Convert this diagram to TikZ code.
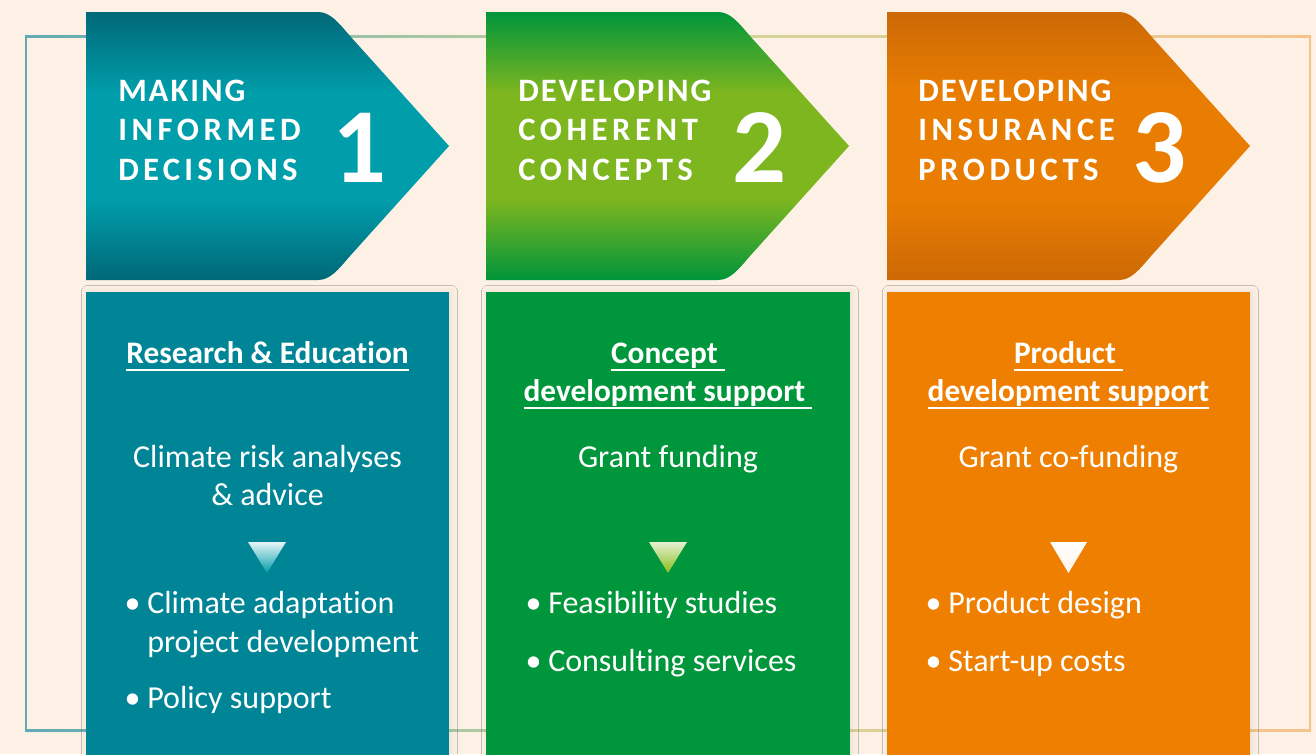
\documentclass[tikz,border=0pt]{standalone}
\usepackage{fontspec}
\setmainfont{Carlito}[Ligatures={NoCommon}]
\newfontfamily\titlefont{Carlito}
\usetikzlibrary{shadows.blur}
\definecolor{Cream}{HTML}{FDF1E5}
\definecolor{TealDark}{HTML}{006878}
\definecolor{TealLight}{HTML}{009DAA}
\definecolor{TealBox}{HTML}{008596}
\definecolor{GreenDark}{HTML}{00953A}
\definecolor{GreenLight}{HTML}{7DB61F}
\definecolor{GreenBox}{HTML}{00963B}
\definecolor{OrangeDark}{HTML}{CC6905}
\definecolor{OrangeLight}{HTML}{E97D02}
\definecolor{OrangeBox}{HTML}{EF7F00}
\definecolor{FrameTeal}{HTML}{62AAB4}
\definecolor{FrameYellow}{HTML}{CFD69A}
\definecolor{FrameOrange}{HTML}{F7C28C}
\pgfdeclareverticalshading{tealband}{100bp}{color(0bp)=(TealDark); color(25bp)=(TealDark); color(40bp)=(TealLight); color(60bp)=(TealLight); color(75bp)=(TealDark); color(100bp)=(TealDark)}
\pgfdeclareverticalshading{greenband}{100bp}{color(0bp)=(GreenDark); color(25bp)=(GreenDark); color(40bp)=(GreenLight); color(60bp)=(GreenLight); color(75bp)=(GreenDark); color(100bp)=(GreenDark)}
\pgfdeclareverticalshading{orangeband}{100bp}{color(0bp)=(OrangeDark); color(25bp)=(OrangeDark); color(40bp)=(OrangeLight); color(60bp)=(OrangeLight); color(75bp)=(OrangeDark); color(100bp)=(OrangeDark)}
\newcommand{\ulin}[1]{\setbox0\hbox{#1}\rlap{\rule[-5.8pt]{\wd0}{1.6pt}}\box0}
\newcommand{\bul}{\llap{\textbullet\hspace{5pt}}}
\def\chevronpath{(86,12) -- (318,12) .. controls (330,12) and (338,22) .. (350,36) -- (449,146) -- (350,256) .. controls (338,270) and (330,280) .. (318,280) -- (86,280) -- cycle}
\tikzset{
  title/.style={anchor=base west, inner sep=0, text=white, font=\titlefont\bfseries\fontsize{24.5}{29}\selectfont\addfontfeature{LetterSpace=#1}},
  title/.default=6,
  num/.style={anchor=base, inner sep=0, text=white, font=\bfseries\fontsize{80}{90}\selectfont},
  head/.style={anchor=base, inner sep=0, text=white, font=\bfseries\fontsize{23.5}{28}\selectfont},
  body/.style={anchor=base, inner sep=0, text=white, font=\fontsize{24}{29}\selectfont},
  item/.style={body, anchor=base west},
  card/.style={blur shadow={shadow xshift=1.5pt, shadow yshift=0pt, shadow blur radius=5pt, shadow opacity=8}}
}

\begin{document}
\begin{tikzpicture}[x=0.75pt, y=-0.75pt]
  \useasboundingbox (0,0) rectangle (1316,754);
  \fill[Cream] (0,0) rectangle (1316,754);
  % frame
  \shade[left color=FrameTeal, right color=FrameOrange, middle color=FrameYellow] (25,35) rectangle (1311,37);
  \shade[left color=FrameTeal, right color=FrameOrange, middle color=FrameYellow] (25,729) rectangle (1311,731);
  \fill[FrameTeal] (25,35) rectangle (27,731); \fill[FrameOrange] (1309,35) rectangle (1311,731);
  % chevrons
  \shade[shading=tealband] \chevronpath;
  \begin{scope}[xshift=300pt]
    \shade[shading=greenband] \chevronpath;
  \end{scope}
  \begin{scope}[xshift=600.75pt]
    \shade[shading=orangeband] \chevronpath;
  \end{scope}
  % boxes
  \fill[TealBox, card] (86,292) rectangle (449,780);
  \fill[GreenBox, card] (486,292) rectangle (850,780);
  \fill[OrangeBox, card] (887,292) rectangle (1250,780);
  % column 1
  \node[title] (ti1a) at (118,101) {MAKING};
  \node[title=14] (ti1b) at (118,140.5) {INFORMED};
  \node[title=13] (ti1c) at (118,180) {DECISIONS};
  \node[num] (n1) at (360,182) {1};
  \node[head] (h1) at (267.5,363) {\ulin{Research \& Education}};
  \node[body] (b1a) at (267.5,467) {Climate risk analyses};
  \node[body] (b1b) at (267.5,505) {\& advice};
  \shade[top color=white!90!TealLight, bottom color=TealLight] (248,542) -- (286,542) -- (267,573) -- cycle;
  \node[item] (i1a) at (147,613) {\bul Climate adaptation};
  \node[item] (i1b) at (147,652) {project development};
  \node[item] (i1c) at (147,708) {\bul Policy support};
  % column 2
  \node[title] (ti2a) at (518,101) {DEVELOPING};
  \node[title=14] (ti2b) at (518,140.5) {COHERENT};
  \node[title=14] (ti2c) at (518,180) {CONCEPTS};
  \node[num] (n2) at (760,182) {2};
  \node[head] (h2a) at (668,363) {\ulin{Concept\ }};
  \node[head] (h2b) at (668,401) {\ulin{development support\ }};
  \node[body] (b2) at (668,467) {Grant funding};
  \shade[top color=white!80!GreenLight, bottom color=GreenLight!90!yellow] (649,542) -- (687,542) -- (668,573) -- cycle;
  \node[item] (i2a) at (548,613) {\bul Feasibility studies};
  \node[item] (i2b) at (548,671) {\bul Consulting services};
  % column 3
  \node[title] (ti3a) at (918,101) {DEVELOPING};
  \node[title=14] (ti3b) at (918,140.5) {INSURANCE};
  \node[title=14] (ti3c) at (918,180) {PRODUCTS};
  \node[num] (n3) at (1160,182) {3};
  \node[head] (h3a) at (1068.5,363) {\ulin{Product\ }};
  \node[head] (h3b) at (1068.5,401) {\ulin{development support}};
  \node[body] (b3) at (1068.5,467) {Grant co-funding};
  \shade[top color=white, bottom color=Cream!80!OrangeLight!30] (1050,542) -- (1087,542) -- (1068.5,573) -- cycle;
  \node[item] (i3a) at (948,613) {\bul Product design};
  \node[item] (i3b) at (948,671) {\bul Start-up costs};
\end{tikzpicture}
\end{document}
